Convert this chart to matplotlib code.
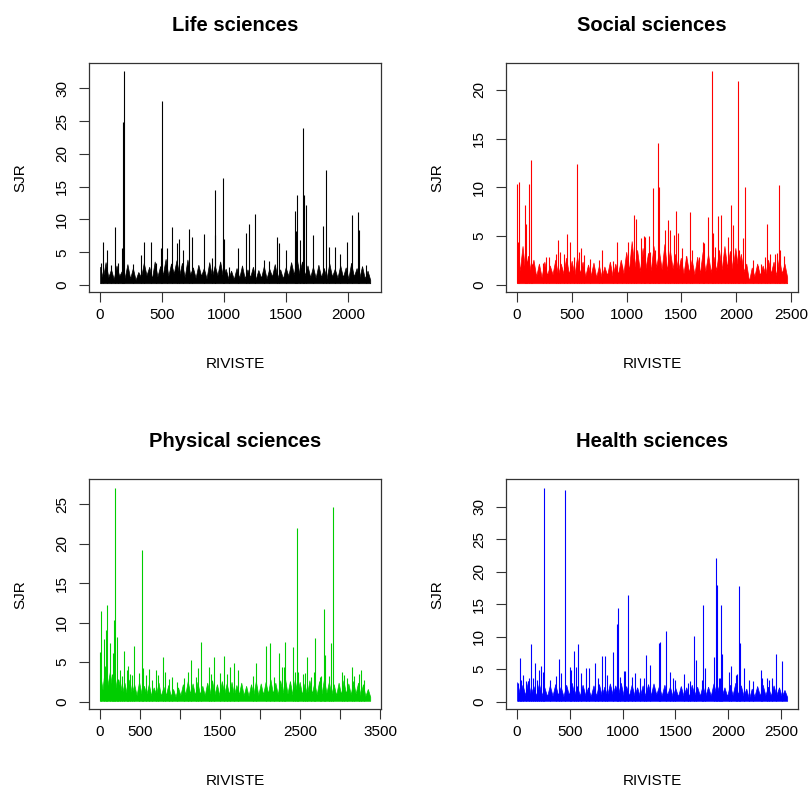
import numpy as np
import matplotlib.pyplot as plt

plt.rcParams['font.family'] = ['Liberation Sans', 'DejaVu Sans']

# number of journals per field
life_n = 2177
social_n = 2467
physical_n = 3376
health_n = 2558

# lowest SJR in each field
life_floor = 0.29
social_floor = 0.19
physical_floor = 0.10
health_floor = 0.13

# local highs and lows of the dense part of each series, evenly spread over the journals
life_band = [2.8, 1.0, 3.5, 1.2, 2.4, 0.9, 3.0, 1.4, 2.2, 1.1,
             3.2, 1.0, 2.6, 0.8, 2.0, 1.2, 3.4, 1.5, 2.8, 1.0,
             3.6, 1.3, 2.9, 1.6, 4.0, 1.4, 3.3, 1.8, 3.8, 1.5,
             3.4, 1.2, 3.9, 1.6, 2.7, 1.1, 3.1, 1.4, 2.6, 1.0,
             3.5, 1.3, 3.0, 1.5, 3.6, 1.2, 2.5, 1.0, 2.2, 0.9,
             2.6, 1.1, 3.0, 1.0, 2.4, 1.2, 2.8, 0.9, 2.3, 1.1,
             2.9, 1.0, 2.5, 1.3, 3.2, 1.1, 2.4, 1.0, 2.7, 1.4,
             3.5, 1.6, 4.2, 1.8, 3.6, 1.5, 3.0, 1.2, 2.8, 1.1,
             3.1, 1.2, 2.6, 1.0, 3.3, 1.3, 2.5, 1.1, 3.0, 1.2,
             2.7, 1.0, 3.4, 1.3, 2.6, 1.1, 2.9, 1.0, 2.2, 0.8]
social_band = [3.5, 1.5, 4.0, 1.2, 3.0, 1.4, 2.6, 0.9, 2.2, 0.8,
               2.4, 1.0, 2.0, 1.1, 2.6, 1.0, 2.2, 1.2, 2.8, 1.1,
               2.5, 1.0, 2.9, 1.2, 2.4, 0.9, 2.1, 1.0, 2.3, 0.8,
               2.0, 0.8, 1.9, 1.0, 2.4, 0.9, 2.2, 1.1, 2.6, 1.2,
               3.4, 1.5, 4.5, 1.8, 3.6, 1.4, 3.8, 1.6, 3.3, 1.5,
               4.0, 1.8, 3.5, 1.6, 4.2, 1.5, 3.6, 1.7, 3.2, 1.4,
               2.8, 1.2, 3.0, 1.3, 2.6, 1.1, 2.9, 1.2, 3.4, 1.4,
               3.2, 1.3, 2.9, 1.5, 3.6, 1.6, 4.0, 1.8, 3.5, 1.6,
               3.8, 1.7, 3.2, 1.4, 2.2, 0.4, 1.8, 0.9, 2.2, 1.0,
               2.0, 1.1, 2.6, 1.2, 2.4, 1.0, 2.8, 1.2, 2.2, 0.8]
physical_band = [3.5, 1.5, 4.5, 2.0, 3.8, 1.6, 3.2, 1.2, 2.8, 1.0,
                 2.4, 0.9, 2.8, 1.0, 2.2, 0.8, 2.5, 1.0, 2.0, 0.9,
                 2.2, 0.8, 1.8, 0.9, 2.4, 0.7, 1.9, 0.8, 2.1, 0.7,
                 1.6, 0.6, 1.8, 0.8, 2.2, 0.9, 2.6, 1.0, 2.3, 0.8,
                 2.5, 0.9, 2.0, 0.8, 2.4, 1.0, 2.7, 0.9, 2.2, 0.8,
                 2.6, 1.0, 2.3, 0.9, 2.5, 0.8, 2.1, 0.9, 2.4, 0.8,
                 2.0, 0.7, 2.2, 0.9, 2.6, 0.8, 2.3, 0.9, 2.5, 1.0,
                 2.8, 1.0, 2.4, 0.9, 2.7, 1.1, 2.9, 1.0, 2.6, 0.9,
                 2.8, 1.0, 2.5, 0.9, 2.3, 0.8, 2.7, 1.0, 2.4, 0.9,
                 2.6, 1.0, 2.9, 1.1, 2.5, 0.9, 2.2, 0.8, 2.4, 0.9,
                 2.7, 1.0, 2.3, 0.9, 2.6, 1.0, 2.4, 0.8, 2.2, 0.7,
                 1.6, 0.6]
health_band = [3.0, 1.2, 2.6, 1.0, 3.2, 1.1, 2.4, 0.9, 2.8, 1.0,
               2.2, 0.8, 2.5, 0.9, 2.7, 1.0, 2.3, 0.8, 2.6, 1.0,
               2.9, 1.1, 2.4, 0.9, 2.6, 1.0, 2.2, 0.8, 2.5, 0.9,
               2.7, 1.0, 2.3, 0.9, 2.8, 1.1, 2.5, 1.0, 2.9, 1.0,
               2.4, 0.9, 2.6, 1.0, 2.2, 0.8, 2.5, 0.9, 2.7, 1.0,
               2.8, 1.1, 2.4, 0.9, 2.6, 1.0, 2.3, 0.8, 2.1, 0.8,
               2.4, 0.9, 2.2, 0.8, 2.6, 1.0, 2.3, 0.9, 2.5, 0.9,
               2.3, 0.9, 2.8, 1.1, 2.5, 0.9, 2.2, 0.8, 2.6, 1.0,
               2.9, 1.1, 2.5, 0.9, 2.0, 0.4, 2.0, 0.8, 2.4, 0.9,
               2.6, 1.0, 2.3, 0.9, 2.5, 1.0, 2.2, 0.8, 1.8, 0.7]

# journals that stand out above the dense part
life_x = [12, 27, 59, 90, 121, 148, 175, 183, 194, 264, 331, 358, 409, 450, 492, 503, 538,
          578, 619, 635, 672, 718, 740, 834, 901, 925, 930, 990, 997, 1036, 1113, 1176,
          1197, 1249, 1319, 1365, 1424, 1446, 1500, 1570, 1578, 1589, 1614, 1635, 1641,
          1662, 1716, 1800, 1819, 1843, 1892, 1930, 1986, 2027, 2076, 2086, 2140]
life_sjr = [3.3, 6.6, 5.3, 3.0, 8.8, 3.4, 5.7, 24.9, 32.6, 3.2, 4.6, 6.5, 6.5, 3.3, 5.6,
            28.1, 5.7, 8.8, 6.4, 7.1, 5.3, 8.6, 7.4, 7.8, 4.1, 14.5, 7.6, 16.3, 7.1, 2.8,
            5.7, 8.0, 9.3, 10.8, 3.9, 3.7, 7.3, 6.4, 5.3, 11.3, 8.2, 13.7, 6.9, 23.9, 13.7,
            12.2, 7.7, 9.0, 17.6, 5.8, 5.8, 4.7, 6.5, 10.7, 11.2, 8.4, 3.0]

social_x = [1, 9, 22, 71, 86, 95, 114, 126, 139, 237, 262, 293, 354, 376, 391, 425, 459,
            484, 524, 551, 567, 588, 616, 671, 745, 779, 875, 909, 961, 992, 1016, 1041,
            1072, 1087, 1133, 1156, 1170, 1202, 1210, 1239, 1257, 1285, 1294, 1356, 1380,
            1399, 1432, 1451, 1472, 1503, 1540, 1580, 1601, 1663, 1696, 1708, 1743, 1779,
            1792, 1810, 1838, 1859, 1903, 1930, 1954, 1970, 1994, 2016, 2025, 2062, 2083,
            2154, 2200, 2231, 2261, 2283, 2307, 2353, 2377, 2390, 2399, 2436]
social_sjr = [10.4, 4.4, 10.6, 8.2, 6.3, 2.5, 10.4, 12.8, 2.2, 2.3, 2.9, 2.9, 3.2, 4.6,
              3.4, 3.2, 5.2, 4.4, 2.9, 12.4, 3.4, 3.8, 3.1, 2.7, 2.6, 3.6, 2.5, 4.4, 2.0,
              2.9, 4.4, 3.7, 7.2, 6.8, 4.8, 5.0, 4.9, 5.0, 3.4, 9.9, 3.6, 14.5, 10.0, 5.6,
              6.7, 5.6, 5.1, 7.6, 5.3, 3.8, 3.0, 7.5, 3.6, 2.9, 4.4, 4.3, 7.0, 21.9, 5.3,
              3.9, 7.1, 7.2, 2.9, 4.9, 8.2, 6.1, 2.6, 20.9, 3.6, 4.8, 10.0, 2.6, 2.0, 2.2,
              2.9, 6.3, 3.2, 3.2, 3.3, 10.2, 3.6, 3.0]

physical_x = [1, 13, 46, 75, 92, 125, 146, 158, 175, 192, 208, 229, 254, 280, 300, 334,
              350, 375, 404, 429, 492, 521, 542, 575, 609, 646, 700, 730, 784, 813, 863,
              896, 959, 1055, 1093, 1134, 1197, 1230, 1259, 1359, 1384, 1422, 1493, 1547,
              1583, 1625, 1675, 1721, 1917, 1946, 2071, 2121, 2175, 2234, 2275, 2296, 2313,
              2409, 2430, 2459, 2472, 2530, 2555, 2588, 2630, 2672, 2684, 2746, 2767, 2796,
              2809, 2855, 2888, 2905, 3022, 3043, 3084, 3147, 3176, 3230, 3264, 3293]
physical_sjr = [6.3, 11.5, 7.9, 9.1, 12.3, 7.4, 3.5, 6.1, 10.3, 27.1, 8.2, 2.9, 4.0, 3.3,
                6.4, 4.0, 4.5, 3.5, 3.4, 7.1, 3.6, 19.2, 4.2, 3.4, 4.1, 2.7, 4.0, 3.4, 5.6,
                3.7, 2.9, 3.1, 2.5, 3.0, 3.7, 5.3, 3.1, 4.3, 7.6, 4.4, 3.5, 5.7, 3.6, 5.8,
                3.5, 4.4, 4.9, 4.0, 3.3, 4.9, 7.1, 7.4, 3.1, 6.1, 4.4, 4.4, 7.6, 6.9, 3.7,
                22.0, 3.7, 3.5, 3.6, 5.7, 3.1, 3.7, 8.1, 3.1, 3.3, 11.8, 5.9, 3.3, 7.4, 24.7,
                3.8, 3.4, 3.0, 4.4, 3.3, 3.5, 4.0, 2.8]

health_x = [10, 25, 42, 60, 86, 111, 130, 149, 169, 191, 213, 232, 245, 254, 315, 366, 401,
            413, 452, 499, 515, 537, 560, 582, 604, 658, 681, 741, 766, 805, 830, 852, 913,
            948, 960, 979, 1011, 1024, 1049, 1087, 1119, 1160, 1198, 1218, 1262, 1343, 1353,
            1412, 1450, 1475, 1500, 1581, 1618, 1642, 1678, 1691, 1750, 1763, 1776, 1869,
            1882, 1894, 1910, 1922, 1935, 1944, 2004, 2026, 2070, 2085, 2101, 2110, 2151,
            2198, 2230, 2308, 2324, 2370, 2386, 2417, 2448, 2511]
health_sjr = [2.8, 6.7, 3.3, 4.1, 3.1, 3.7, 8.9, 3.6, 5.9, 3.4, 4.9, 5.5, 4.6, 32.9, 3.3,
              3.9, 6.5, 4.4, 32.5, 5.3, 4.9, 7.8, 5.3, 8.9, 4.4, 5.1, 5.1, 5.9, 3.6, 7.1,
              7.1, 4.1, 7.7, 11.9, 14.4, 3.8, 4.7, 4.7, 16.4, 3.8, 4.4, 3.6, 3.7, 7.2, 5.6,
              9.1, 9.2, 10.9, 4.6, 3.6, 3.4, 4.2, 2.8, 3.1, 10.1, 6.4, 3.3, 14.9, 5.1, 6.9,
              22.1, 17.9, 3.7, 3.6, 14.9, 7.4, 4.6, 5.5, 4.1, 4.3, 17.8, 9.1, 5.1, 3.3, 3.1,
              4.9, 3.6, 3.7, 3.3, 3.7, 7.3, 6.2]

DPI = 100
fig = plt.figure(figsize=(8.09, 7.92), dpi=DPI)

rects = [(0.1104, 0.6317, 0.3606, 0.2891), (0.6258, 0.6317, 0.3606, 0.2891),
         (0.1104, 0.1044, 0.3606, 0.2904), (0.6258, 0.1044, 0.3606, 0.2904)]


def px(p):
    return p * 72 / DPI


def panel(rect, title, n, floor, band, xs, ys, color, xticks, xlabels, yticks):
    ax = fig.add_axes(rect)
    bx = np.linspace(1, n, len(band))
    ax.fill_between(bx, floor, band, color=color, lw=0.5, edgecolor=color)
    ax.vlines(xs, floor, ys, color=color, lw=0.8)
    # R style 4% padding around the data
    top = max(ys)
    ax.set_xlim(1 - 0.04 * (n - 1), n + 0.04 * (n - 1))
    ax.set_ylim(floor - 0.04 * (top - floor), top + 0.04 * (top - floor))
    ax.set_xticks(xticks)
    ax.set_xticklabels(xlabels)
    ax.set_yticks(yticks)
    ax.set_yticklabels([str(v) for v in yticks], rotation=90, va='center')
    ax.tick_params(length=px(10), width=0.8, labelsize=11, color='#333333')
    ax.tick_params(axis='x', pad=px(6))
    ax.tick_params(axis='y', pad=px(10))
    for s in ax.spines.values():
        s.set_linewidth(0.9)
        s.set_color('#333333')
    ax.set_title(title, fontsize=14.5, fontweight='bold', pad=px(32))
    ax.annotate('RIVISTE', xy=(0.5, 0), xycoords='axes fraction', xytext=(0, -px(72)),
                textcoords='offset points', ha='center', va='center', fontsize=11)
    ax.annotate('SJR', xy=(0, 0.5), xycoords='axes fraction', xytext=(-px(69), 0),
                textcoords='offset points', ha='center', va='center', fontsize=11,
                rotation=90)
    return ax


panel(rects[0], 'Life sciences', life_n, life_floor, life_band, life_x, life_sjr,
      'black', [0, 500, 1000, 1500, 2000], ['0', '500', '1000', '1500', '2000'],
      [0, 5, 10, 15, 20, 25, 30])
panel(rects[1], 'Social sciences', social_n, social_floor, social_band, social_x,
      social_sjr, '#ff0000', [0, 500, 1000, 1500, 2000, 2500],
      ['0', '500', '1000', '1500', '2000', '2500'], [0, 5, 10, 15, 20])
panel(rects[2], 'Physical sciences', physical_n, physical_floor, physical_band,
      physical_x, physical_sjr, '#00cd00',
      [0, 500, 1000, 1500, 2000, 2500, 3000, 3500],
      ['0', '500', '', '1500', '', '2500', '', '3500'], [0, 5, 10, 15, 20, 25])
panel(rects[3], 'Health sciences', health_n, health_floor, health_band, health_x,
      health_sjr, '#0000ff', [0, 500, 1000, 1500, 2000, 2500],
      ['0', '500', '1000', '1500', '2000', '2500'], [0, 5, 10, 15, 20, 25, 30])

fig.savefig('out.png', dpi=DPI)
